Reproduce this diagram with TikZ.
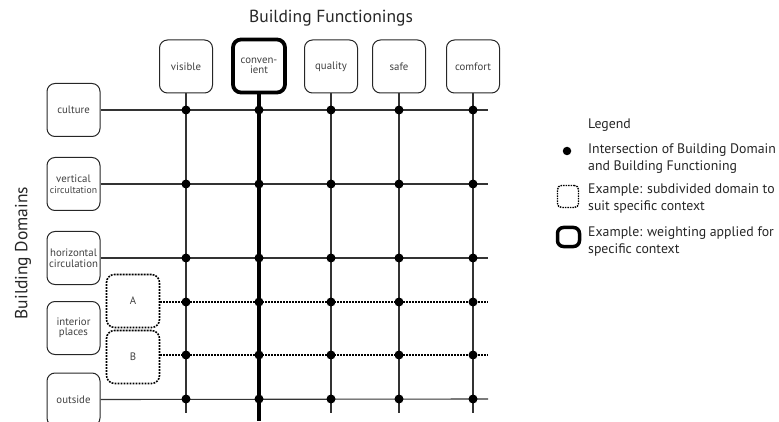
\documentclass[tikz,border=0pt]{standalone}
\usepackage{fontspec}
\setmainfont{PT Sans}
\begin{document}
\begin{tikzpicture}[x=1pt,y=-1pt,
  box/.style={draw=black!85, line width=1pt, rounded corners=8pt, minimum width=53pt, minimum height=53pt, inner sep=0pt, align=center, font=\fontsize{10.8}{11.5}\selectfont, text=black!75},
  heavybox/.style={box, line width=3.8pt, draw=black},
  dotpat/.style={dash pattern=on 1.8pt off 1.2pt},
  dashbox/.style={box, draw=black, dotpat, line width=1.6pt},
  gline/.style={draw=black!80, line width=1.1pt},
  heavyline/.style={draw=black, line width=3.8pt},
  dline/.style={draw=black, dotpat, line width=1.6pt},
  dot/.style={circle, fill=black, inner sep=0pt, minimum size=9pt},
  legtext/.style={anchor=west, align=left, font=\fontsize{13.8}{17}\selectfont, text=black!85, inner sep=0pt}
]
\useasboundingbox (0,0) rectangle (779,422);

\node[font=\fontsize{17.5}{19}\selectfont, text=black!85] (title) at (331,18) {Building Functionings};
\node[font=\fontsize{17.5}{19}\selectfont, text=black!85, rotate=90] (dtitle) at (23,253) {Building Domains};

% column boxes
\node[box] (visible) at (186,66.5) {visible};
\node[heavybox, minimum width=52pt, minimum height=53pt] (conv) at (259,66) {conven-\\[-1pt]ient};
\node[box] (quality) at (331,66.5) {quality};
\node[box] (safe) at (399,66.5) {safe};
\node[box] (comfort) at (473,66.5) {comfort};

% row boxes
\node[box] (culture) at (73.5,110) {culture};
\node[box] (vert) at (73.5,184) {vertical\\[-1pt]{\fontsize{9.7}{10.5}\selectfont circultation}};
\node[box] (horiz) at (73.5,258) {horizontal\\[-1pt]circulation};
\node[box] (inter) at (73.5,328) {interior\\[-1pt]places};
\node[box] (outside) at (73.5,399.5) {outside};
\node[dashbox] (A) at (133,301) {A};
\node[dashbox] (B) at (133,357) {B};

% end coordinates
\coordinate (cultureE) at (488,110);
\coordinate (vertE) at (488,184);
\coordinate (horizE) at (488,258);
\coordinate (AE) at (488,302);
\coordinate (BE) at (488,355);
\coordinate (outsideE) at (488,399);
\coordinate (visibleS) at (186,413);
\coordinate (convS) at (259,421);
\coordinate (qualityS) at (331,413);
\coordinate (safeS) at (399,413);
\coordinate (comfortS) at (473,413);

% vertical lines
\draw[gline] (visible.south) -- (visibleS);
\draw[heavyline] (conv.south) -- (convS);
\draw[gline] (quality.south) -- (qualityS);
\draw[gline] (safe.south) -- (safeS);
\draw[gline] (comfort.south) -- (comfortS);

% horizontal lines
\draw[gline] (culture.east) -- (cultureE);
\draw[gline] (vert.east) -- (vertE);
\draw[gline] (horiz.east) -- (horizE);
\draw[dline] (A.east |- AE) -- (AE);
\draw[dline] (B.east |- BE) -- (BE);
\draw[gline] (outside.east) -- (outsideE);

% dots
\foreach \c in {visible,conv,quality,safe,comfort}{
  \foreach \r in {cultureE,vertE,horizE,AE,BE,outsideE}{
    \node[dot] at (\c.south |- \r) {};
  }
}

% legend
\node[legtext] (leg) at (588,125) {Legend};
\node[dot, minimum size=8.5pt] (legdot) at (567,151) {};
\node[legtext] (legdott) at (588,158.5) {Intersection of Building Domain\\and Building Functioning};
\node[dashbox, minimum width=21pt, minimum height=22pt, rounded corners=4pt, line width=1.4pt, dash pattern=on 1.5pt off 1pt] (legdash) at (568,196.5) {};
\node[legtext] (legdasht) at (588,198) {Example: subdivided domain to\\suit specific context};
\node[heavybox, minimum width=22pt, minimum height=19pt, rounded corners=6pt, line width=3.5pt] (legheavy) at (568.5,237) {};
\node[legtext] (legheavyt) at (588,241) {Example: weighting applied for\\specific context};
\end{tikzpicture}
\end{document}
